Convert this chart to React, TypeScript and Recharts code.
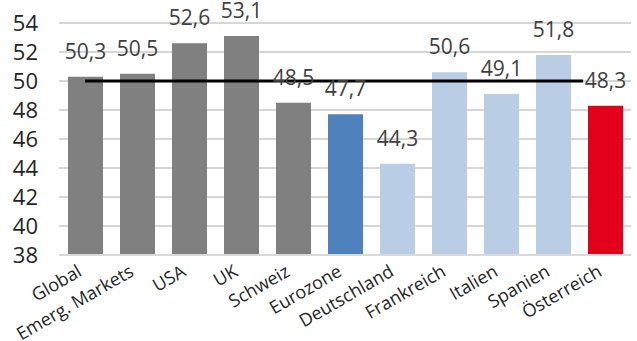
import React from 'react';
import { ComposedChart, Bar, Line, XAxis, YAxis, CartesianGrid, Cell, LabelList } from 'recharts';

const categories = ['Global', 'Emerg. Markets', 'USA', 'UK', 'Schweiz', 'Eurozone', 'Deutschland', 'Frankreich', 'Italien', 'Spanien', 'Österreich'];
const pmiValues = [50.3, 50.5, 52.6, 53.1, 48.5, 47.7, 44.3, 50.6, 49.1, 51.8, 48.3];
const barColors = ['#808080', '#808080', '#808080', '#808080', '#808080', '#4f81bd', '#b9cde5', '#b9cde5', '#b9cde5', '#b9cde5', '#e2001a'];
const yTicks = [38, 40, 42, 44, 46, 48, 50, 52, 54];
const thresholdLine = [
  { pos: 0.5, value: 50 },
  { pos: 10.08, value: 50 },
];

const data = categories.map((name, i) => ({ name, value: pmiValues[i] }));

const FONT = '"Open Sans", sans-serif';

const CategoryTick = (props: any) => {
  const { x, y, payload } = props;
  return (
    <g transform={`translate(${x - 2},${y + 20})`}>
      <text x={0} y={0} transform="rotate(-30)" textAnchor="end" fill="#262626" fontSize={18} fontFamily={FONT}>
        {payload.value}
      </text>
    </g>
  );
};

export default function App() {
  return (
    <div style={{ position: 'absolute', left: 0, top: 0, width: 637, height: 341, background: '#fff' }}>
      <ComposedChart width={637} height={341} data={data} margin={{ top: 23, right: 6, left: 0, bottom: 0 }}>
        <CartesianGrid vertical={false} stroke="#c8c8c8" strokeWidth={1.3} />
        <XAxis
          xAxisId="cat"
          dataKey="name"
          type="category"
          height={86}
          interval={0}
          tickSize={0}
          tickMargin={0}
          tickLine={false}
          axisLine={{ stroke: '#d9d9d9', strokeWidth: 2 }}
          tick={<CategoryTick />}
        />
        <XAxis xAxisId="num" type="number" dataKey="pos" domain={[0, 11]} allowDataOverflow hide />
        <YAxis
          domain={[38, 54]}
          ticks={yTicks}
          interval={0}
          width={59}
          axisLine={false}
          tickLine={false}
          tickSize={0}
          tickMargin={21}
          tick={{ fill: '#262626', fontSize: 22, fontFamily: FONT }}
          allowDataOverflow
        />
        <Bar xAxisId="cat" dataKey="value" barSize={35} isAnimationActive={false}>
          {data.map((d, i) => (
            <Cell key={d.name} fill={barColors[i]} />
          ))}
          <LabelList
            dataKey="value"
            position="top"
            offset={18}
            formatter={(v: any) => String(v).replace('.', ',')}
            fill="#404040"
            fontSize={21}
            fontFamily={FONT}
          />
        </Bar>
        <Line
          xAxisId="num"
          data={thresholdLine}
          dataKey="value"
          stroke="#000"
          strokeWidth={3}
          dot={false}
          activeDot={false}
          isAnimationActive={false}
        />
      </ComposedChart>
    </div>
  );
}
